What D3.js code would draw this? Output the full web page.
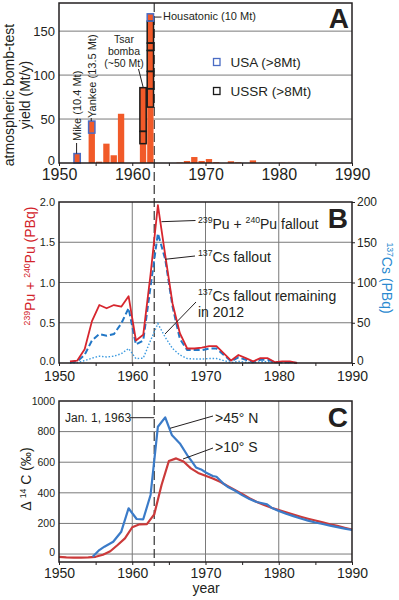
<!DOCTYPE html>
<html>
<head>
<meta charset="utf-8">
<script src="https://cdn.jsdelivr.net/npm/d3@7"></script>
<style>
body{margin:0;background:#fff}
svg{display:block;font-family:"Liberation Sans",Arial,sans-serif}
</style>
</head>
<body>
<svg id="chart" width="399" height="600"></svg>
<script>
// --- panel A: bomb-test yield (Mt/y) ---
const barYears = [1952,1954,1955,1956,1957,1958,1961,1962,1966,1967,1968,1969,1970,1971,1973,1974,1976,1980];
const barYield = [10.7,47.7,1.5,22,8.8,56,85.7,169.7,0.5,2.3,6.8,2.3,4.5,1,2,0.8,3,0.3];
// [year, low, high] of single large tests
const usaBoxes = [[1952,0,10.7],[1954,34,47.7],[1962,161.4,169.7]];
const ussrBoxes = [[1961,22,36],[1961,36,85.7],[1962,63.6,84.5],[1962,84.5,104.2],[1962,104.2,128],[1962,128,136.4],[1962,136.4,161.4]];
const yieldTicks = [0,50,100,150];

// --- panel B: fallout (PBq), annual ---
const falloutYears = [1951,1952,1953,1954,1955,1956,1957,1958,1959,1960,1961,1962,1963,1964,1965,1966,1967,1968,1969,1970,1971,1972,1973,1974,1975,1976,1977,1978,1979,1980,1981,1982];
const puFallout = [0.02,0.03,0.17,0.52,0.72,0.68,0.72,0.70,0.83,0.28,0.35,1.10,1.96,1.34,0.74,0.37,0.18,0.18,0.19,0.21,0.21,0.12,0.03,0.10,0.06,0.02,0.06,0.06,0.01,0.02,0.02,0.00];
const csFallout = [1,2,10,28,36,34,36,49,68,23,28,95,161,129,70,30,16,16,16,18,18,10,2,7,4,1,4,4,1,1,1,0];
const csRemaining = [0,0.5,3,6,8.5,7.5,8.5,11.5,18,5.5,6,28,49,32,18,10,5.5,5,5,5.5,5.5,3,0.5,2,1,0.5,1.5,1.5,0.5,0.5,0.5,0];
const puTicks = [0,0.5,1,1.5,2];
const csTicks = [0,50,100,150,200];

// --- panel C: delta 14C (permil) ---
const northYears = [1954.6,1955.5,1956.2,1957.4,1958.5,1959.5,1960.6,1961.5,1962.5,1963.5,1964.5,1965.4,1966.5,1967.5,1968.2,1968.7,1969.4,1970.1,1971.0,1971.5,1972.4,1973,1974,1975,1976,1977,1978.4,1979,1980,1981,1982,1983,1984,1985,1986,1987,1988,1989,1990];
const north = [-18,26,48,80,146,299,229,227,386,832,893,778,723,647,600,566,553,531,510,505,462,440,415,385,360,340,325,303,282,263,248,232,218,206,196,186,176,166,157];
const southYears = [1950,1951,1952,1953,1954,1955,1956,1957,1958,1959,1960,1961,1962,1963,1964,1965,1966,1967,1968,1969,1970,1971,1972,1973,1974,1975,1976,1977,1978,1979,1980,1981,1982,1983,1984,1985,1986,1987,1988,1989,1990];
const south = [-18,-22,-24,-23,-22,-18,-5,18,59,102,175,194,196,259,451,608,625,605,560,530,512,494,472,445,418,392,365,340,320,303,287,272,258,244,231,219,207,195,184,172,160];
const c14Ticks = [0,200,400,600,800,1000];

const yearTicks = [1950,1955,1960,1965,1970,1975,1980,1985,1990];
const testDate = 1963;

const svg = d3.select("#chart");
const ink = "#231f20";
const x = d3.scaleLinear([1950,1990],[59,352]);
const yA = d3.scaleLinear([0,182],[163,3]);
const yB = d3.scaleLinear([0,2],[363,202]);
const yB2 = d3.scaleLinear([0,200],[363,202]);
const yC = d3.scaleLinear([-52,1000],[562,401]);

function hgrid(y, vals){
  svg.append("g").selectAll("line").data(vals).join("line")
    .attr("x1",x(1950)).attr("x2",x(1990))
    .attr("y1",d=>y(d)).attr("y2",d=>y(d))
    .attr("stroke","#7a7a7a").attr("stroke-width",1);
}
function vgrid(y, vals){
  svg.append("g").selectAll("line").data(vals).join("line")
    .attr("x1",d=>x(d)).attr("x2",d=>x(d))
    .attr("y1",y.range()[0]).attr("y2",y.range()[1])
    .attr("stroke","#7a7a7a").attr("stroke-width",1);
}
function frame(y){
  svg.append("rect")
    .attr("x",x(1950)).attr("y",y.range()[1])
    .attr("width",x(1990)-x(1950)).attr("height",y.range()[0]-y.range()[1])
    .attr("fill","none").attr("stroke",ink).attr("stroke-width",1.5);
}
function xAxis(y, size, pad){
  const g = svg.append("g")
    .attr("transform",`translate(0,${y.range()[0]})`)
    .call(d3.axisBottom(x).tickValues(yearTicks).tickSize(3).tickPadding(pad)
      .tickFormat(d => d % 10 === 0 ? d : ""));
  g.select(".domain").remove();
  g.selectAll("line").attr("stroke",ink);
  g.selectAll("text").attr("font-size",size).attr("fill",ink).attr("font-family",null);
}
function yAxisLeft(y, vals, size, fmt){
  const g = svg.append("g")
    .attr("transform",`translate(${x(1950)},0)`)
    .call(d3.axisLeft(y).tickValues(vals).tickSize(0).tickPadding(4).tickFormat(fmt));
  g.select(".domain").remove();
  g.selectAll("text").attr("font-size",size).attr("fill",ink).attr("font-family",null);
  // lift the bottom label a little off the year labels
  g.selectAll(".tick").filter(d => d === 0).select("text").attr("dy","0.1em");
}
// text with superscript parts: [[text, isSup], ...]
function rich(g, parts, size){
  const t = g.append("text").attr("font-size",size).attr("fill",ink);
  let raised = false;
  parts.forEach(([s,sup]) => {
    const sp = t.append("tspan").text(s);
    if (sup) { sp.attr("font-size",size*0.62).attr("dy",raised ? 0 : -size*0.38); raised = true; }
    else if (raised) { sp.attr("dy",size*0.38); raised = false; }
  });
  return t;
}
function leader(x1,y1,x2,y2){
  svg.append("line").attr("x1",x1).attr("y1",y1).attr("x2",x2).attr("y2",y2)
    .attr("stroke",ink).attr("stroke-width",1);
}

// ---------- grids ----------
hgrid(yA,[50,100,150]);
hgrid(yB,[0.5,1,1.5]);
vgrid(yB,[1960,1970,1980]);
hgrid(yC,[0,200,400,600,800]);
vgrid(yC,[1960,1970,1980]);

// Jan 1 1963 marker across all panels
svg.append("line")
  .attr("x1",x(testDate)).attr("x2",x(testDate))
  .attr("y1",yA.range()[1]).attr("y2",yC.range()[0]+4)
  .attr("stroke","#333").attr("stroke-width",1.2).attr("stroke-dasharray","9,4");

// ---------- Panel A ----------
svg.append("g").selectAll("rect").data(barYears).join("rect")
  .attr("x",d=>x(d)+0.3)
  .attr("width",x(1951)-x(1950)-1)
  .attr("y",(d,i)=>yA(barYield[i]))
  .attr("height",(d,i)=>yA(0)-yA(barYield[i]))
  .attr("fill","#f15a29");

function boxes(data, color){
  svg.append("g").selectAll("rect").data(data).join("rect")
    .attr("x",d=>x(d[0])+0.3)
    .attr("width",x(1951)-x(1950)-1)
    .attr("y",d=>yA(d[2]))
    .attr("height",d=>yA(d[1])-yA(d[2]))
    .attr("fill","none").attr("stroke",color).attr("stroke-width",1.5);
}
boxes(ussrBoxes, "#1a1a1a");
boxes(usaBoxes, "#4a6cc4");

frame(yA);
xAxis(yA, 16, 3);
yAxisLeft(yA, yieldTicks, 13, d3.format("d"));

const tA = svg.append("g").attr("transform","translate(14,95) rotate(-90)")
  .attr("text-anchor","middle").attr("font-size",14).attr("fill",ink);
tA.append("text").text("atmospheric bomb-test");
tA.append("text").attr("y",16).text("yield (Mt/y)");

svg.append("text").attr("x",80.5).attr("y",141).attr("transform","rotate(-90,80.5,141)")
  .attr("font-size",11).attr("fill",ink).text("Mike (10.4 Mt)");
leader(x(1952.4),143,x(1952.4),yA(10.7));
svg.append("text").attr("x",95.5).attr("y",118).attr("transform","rotate(-90,95.5,118)")
  .attr("font-size",11).attr("fill",ink).text("Yankee (13.5 Mt)");
leader(x(1954.4),118,x(1954.4),yA(47.7));
const tsar = svg.append("text").attr("text-anchor","middle").attr("font-size",10.5).attr("fill",ink);
[["Tsar",43],["bomba",55],["(~50 Mt)",66.5]].forEach(([s,y]) => tsar.append("tspan").attr("x",124).attr("y",y).text(s));
leader(138.5,69,x(1961.5),yA(85.7));
leader(x(1963)+0.5,yA(166),161.5,yA(166));
svg.append("text").attr("x",163).attr("y",19.5).attr("font-size",11).attr("fill",ink).text("Housatonic (10 Mt)");

svg.append("rect").attr("x",213.5).attr("y",58.5).attr("width",6.5).attr("height",7)
  .attr("fill","none").attr("stroke","#4a6cc4").attr("stroke-width",1.3);
svg.append("text").attr("x",230.5).attr("y",66.5).attr("font-size",13.5).attr("fill",ink).text("USA (>8Mt)");
svg.append("rect").attr("x",213.5).attr("y",87.5).attr("width",6.5).attr("height",7)
  .attr("fill","none").attr("stroke","#1a1a1a").attr("stroke-width",1.3);
svg.append("text").attr("x",230.5).attr("y",95.5).attr("font-size",13.5).attr("fill",ink).text("USSR (>8Mt)");
svg.append("text").attr("x",349).attr("y",28).attr("text-anchor","end")
  .attr("font-size",28).attr("font-weight","bold").attr("fill",ink).text("A");

// ---------- Panel B ----------
const lineB = (scale, vals) => d3.line().x((d,i)=>x(falloutYears[i]+0.5)).y(d=>scale(d))(vals);
svg.append("path").attr("d",lineB(yB2,csRemaining)).attr("fill","none")
  .attr("stroke","#3d9be0").attr("stroke-width",1.4).attr("stroke-dasharray","1.5,1.8");
svg.append("path").attr("d",lineB(yB2,csFallout)).attr("fill","none")
  .attr("stroke","#2277c6").attr("stroke-width",2).attr("stroke-dasharray","6,3");
svg.append("path").attr("d",lineB(yB,puFallout)).attr("fill","none")
  .attr("stroke","#d7262e").attr("stroke-width",1.8).attr("stroke-linejoin","round");

frame(yB);
xAxis(yB, 14, 5);
yAxisLeft(yB, puTicks, 11, d3.format(".1f"));
const gR = svg.append("g").attr("transform",`translate(${x(1990)},0)`)
  .call(d3.axisRight(yB2).tickValues(csTicks).tickSize(3).tickPadding(2));
gR.select(".domain").remove();
gR.selectAll("line").attr("stroke",ink);
gR.selectAll("text").attr("font-size",12).attr("fill",ink).attr("font-family",null);
gR.selectAll(".tick").filter(d => d === 0).select("text").attr("dy","0.1em");

rich(svg.append("g").attr("transform","translate(35,266) rotate(-90)"),
  [["239",true],["Pu + ",false],["240",true],["Pu (PBq)",false]], 14)
  .attr("text-anchor","middle").attr("fill","#d2232a");
rich(svg.append("g").attr("transform","translate(382,278) rotate(90)"),
  [["137",true],["Cs (PBq)",false]], 14)
  .attr("text-anchor","middle").attr("fill","#2b8ad0");

leader(161.5,221.7,195.5,220.5);
rich(svg.append("g").attr("transform","translate(198,228.5)"),
  [["239",true],["Pu + ",false],["240",true],["Pu fallout",false]], 14);
leader(165,259.3,195,256);
rich(svg.append("g").attr("transform","translate(198,261.5)"),
  [["137",true],["Cs fallout",false]], 14);
leader(165,334,196,302);
rich(svg.append("g").attr("transform","translate(198,300.5)"),
  [["137",true],["Cs fallout remaining",false]], 14);
svg.append("text").attr("x",198).attr("y",316.5).attr("font-size",14).attr("fill",ink).text("in 2012");
svg.append("text").attr("x",348).attr("y",228).attr("text-anchor","end")
  .attr("font-size",28).attr("font-weight","bold").attr("fill",ink).text("B");

// ---------- Panel C ----------
svg.append("path").attr("d",d3.line().x((d,i)=>x(southYears[i])).y(d=>yC(d))(south))
  .attr("fill","none").attr("stroke","#cb3a3a").attr("stroke-width",2.2).attr("stroke-linejoin","round");
svg.append("path").attr("d",d3.line().x((d,i)=>x(northYears[i])).y(d=>yC(d))(north))
  .attr("fill","none").attr("stroke","#3b7bc8").attr("stroke-width",2.2).attr("stroke-linejoin","round");

frame(yC);
xAxis(yC, 14, 3);
yAxisLeft(yC, c14Ticks, 10.5, d3.format("d"));

rich(svg.append("g").attr("transform","translate(31,479) rotate(-90)"),
  [["Δ ",false],["14",true],[" C (‰)",false]], 14).attr("text-anchor","middle");
svg.append("text").attr("x",206).attr("y",593).attr("text-anchor","middle")
  .attr("font-size",14).attr("fill",ink).text("year");

svg.append("text").attr("x",65).attr("y",421.5).attr("font-size",12).attr("fill",ink).text("Jan. 1, 1963");
leader(130,417.7,x(testDate),417.7);
leader(170,428.3,213,416);
svg.append("text").attr("x",215).attr("y",422.5).attr("font-size",14).attr("fill",ink).text(">45° N");
leader(183,459,213,448);
svg.append("text").attr("x",215).attr("y",451.5).attr("font-size",14).attr("fill",ink).text(">10° S");
svg.append("text").attr("x",348).attr("y",427).attr("text-anchor","end")
  .attr("font-size",28).attr("font-weight","bold").attr("fill",ink).text("C");
</script>
</body>
</html>
